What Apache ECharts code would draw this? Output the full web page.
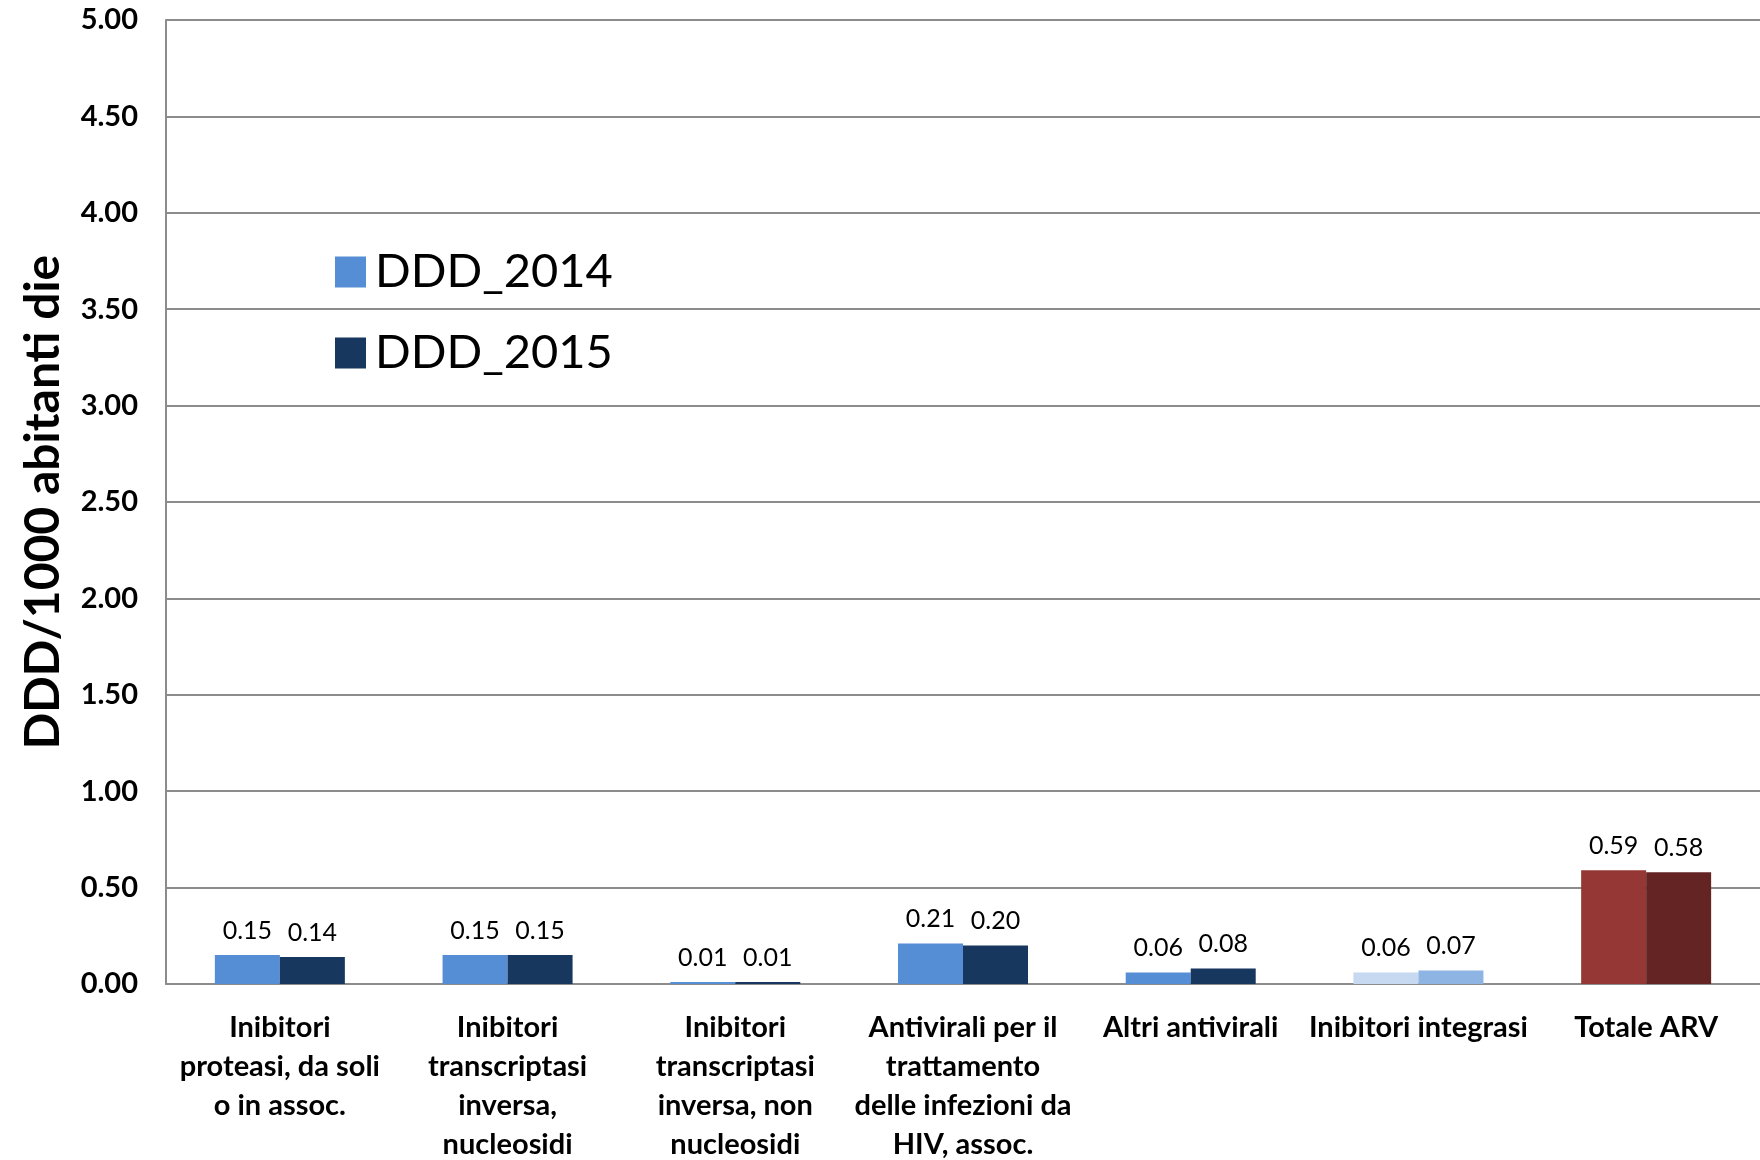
<!DOCTYPE html>
<html>
<head>
<meta charset="utf-8">
<title>DDD/1000 abitanti die</title>
<script src="https://cdn.jsdelivr.net/npm/echarts@6/dist/echarts.min.js"></script>
<style>
  html, body { margin: 0; padding: 0; background: #fff; }
  #chart { width: 1760px; height: 1160px; }
</style>
</head>
<body>
<div id="chart"></div>
<script>
// categorie (a capo come nell'originale)
const categories = [
  'Inibitori\nproteasi, da soli\no in assoc.',
  'Inibitori\ntranscriptasi\ninversa,\nnucleosidi',
  'Inibitori\ntranscriptasi\ninversa, non\nnucleosidi',
  'Antivirali per il\ntrattamento\ndelle infezioni da\nHIV, assoc.',
  'Altri antivirali',
  'Inibitori integrasi',
  'Totale ARV'
];
const ddd2014 = [0.15, 0.15, 0.01, 0.21, 0.06, 0.06, 0.59];
const ddd2015 = [0.14, 0.15, 0.01, 0.20, 0.08, 0.07, 0.58];

// colori per barra
const colors2014 = ['#558ed5', '#558ed5', '#558ed5', '#558ed5', '#558ed5', '#c6d9f1', '#953735'];
const colors2015 = ['#17375e', '#17375e', '#17375e', '#17375e', '#17375e', '#8eb4e3', '#632423'];

const font = 'Lato, "Open Sans", sans-serif';
const gray = '#8c8c8c';

function buildData(values, colors) {
  return values.map((v, i) => ({ value: v, itemStyle: { color: colors[i] } }));
}

const labelOpt = {
  show: true,
  position: 'top',
  distance: 12,
  color: '#000',
  fontFamily: font,
  fontSize: 25,
  formatter: p => p.value.toFixed(2)
};

const option = {
  backgroundColor: '#fff',
  animation: false,
  color: ['#558ed5', '#17375e'],
  legend: {
    orient: 'vertical',
    left: 330,
    top: 242,
    icon: 'rect',
    itemWidth: 31,
    itemHeight: 31,
    itemGap: 31,
    textStyle: { fontFamily: font, fontSize: 47, lineHeight: 50, color: '#000', padding: [0, 0, 0, 4] },
    data: ['DDD_2014', 'DDD_2015']
  },
  grid: { left: 166, top: 20, right: 0, bottom: 176, outerBoundsMode: 'none' },
  xAxis: {
    type: 'category',
    data: categories,
    axisLine: { show: true, lineStyle: { color: gray, width: 2 } },
    axisTick: { show: false },
    axisLabel: {
      interval: 0,
      margin: 24,
      fontFamily: font,
      fontSize: 29,
      fontWeight: 'bold',
      lineHeight: 39,
      color: '#000'
    }
  },
  yAxis: {
    type: 'value',
    min: 0,
    max: 5,
    interval: 0.5,
    name: 'DDD/1000 abitanti die',
    nameLocation: 'middle',
    nameGap: 98,
    nameTextStyle: { fontFamily: font, fontSize: 48, fontWeight: 'bold', color: '#000' },
    axisLine: { show: true, lineStyle: { color: gray, width: 2 } },
    axisTick: { show: false },
    splitLine: { lineStyle: { color: gray, width: 2 } },
    axisLabel: {
      margin: 28,
      fontFamily: font,
      fontSize: 29,
      fontWeight: 'bold',
      color: '#000',
      formatter: v => v.toFixed(2)
    }
  },
  series: [
    {
      name: 'DDD_2014',
      type: 'bar',
      barWidth: 65,
      barGap: '0%',
      data: buildData(ddd2014, colors2014),
      label: labelOpt
    },
    {
      name: 'DDD_2015',
      type: 'bar',
      barWidth: 65,
      data: buildData(ddd2015, colors2015),
      label: labelOpt
    }
  ]
};

const myChart = echarts.init(document.getElementById('chart'));
myChart.setOption(option);
</script>
</body>
</html>
